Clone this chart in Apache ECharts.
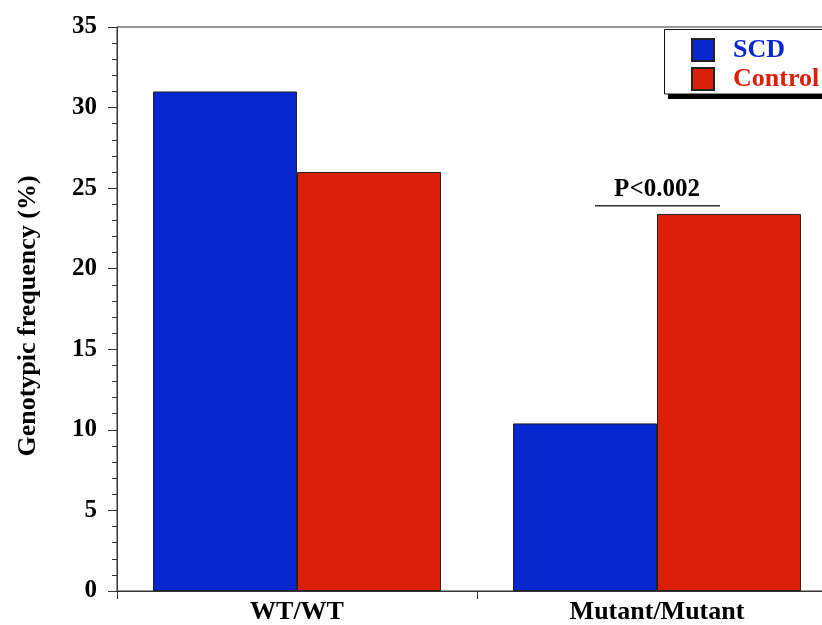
<!DOCTYPE html>
<html><head><meta charset="utf-8">
<script src="https://cdn.jsdelivr.net/npm/echarts@6/dist/echarts.min.js"></script>
<style>html,body{margin:0;padding:0;background:#fff}#c{width:822px;height:625px}</style>
</head><body><div id="c"></div>
<script>
const categories = ['WT/WT', 'Mutant/Mutant'];
const scdValues = [31, 10.4];
const controlValues = [26, 23.4];
const yTicks = {min: 0, max: 35, interval: 5};
const annotation = {text: 'P<0.002', category: 'Mutant/Mutant', value: 23.9};

const FONT = '"Liberation Serif", "Times New Roman", serif';
const BLUE = '#0627cf', RED = '#dc1f08';
const chart = echarts.init(document.getElementById('c'), null, {renderer: 'canvas'});
chart.setOption({
  animation: false,
  backgroundColor: '#fff',
  grid: {left: 117, top: 27, width: 720, bottom: 34, outerBoundsMode: 'none', containLabel: false,
         show: true, borderColor: '#333', borderWidth: 1, backgroundColor: 'transparent'},
  legend: {
    orient: 'vertical', left: 691, top: 37,
    padding: 0, itemGap: 3, itemWidth: 22, itemHeight: 22, icon: 'rect',
    textStyle: {fontFamily: FONT, fontWeight: 'bold', fontSize: 26, padding: [0, 0, 0, 14]},
    data: [
      {name: 'SCD', textStyle: {color: BLUE, fontFamily: FONT, fontWeight: 'bold', fontSize: 26, padding: [0, 0, 0, 14]}},
      {name: 'Control', textStyle: {color: RED, fontFamily: FONT, fontWeight: 'bold', fontSize: 26, padding: [0, 0, 0, 14]}}
    ]
  },
  xAxis: {
    type: 'category', data: categories,
    axisLine: {lineStyle: {color: '#333', width: 1}},
    axisTick: {show: true, length: 8, lineStyle: {color: '#333'}},
    axisLabel: {fontFamily: FONT, fontWeight: 'bold', fontSize: 26, color: '#000', margin: 8}
  },
  yAxis: {
    type: 'value', min: yTicks.min, max: yTicks.max, interval: yTicks.interval,
    name: 'Genotypic frequency (%)', nameLocation: 'middle', nameGap: 76,
    nameTextStyle: {fontFamily: FONT, fontWeight: 'bold', fontSize: 26, color: '#000', padding: [0, 14, 0, 0]},
    axisLine: {show: true, lineStyle: {color: '#333', width: 1}},
    axisTick: {show: true, length: 9, lineStyle: {color: '#333'}},
    minorTick: {show: true, splitNumber: 5, length: 5, lineStyle: {color: '#333'}},
    splitLine: {show: false},
    axisLabel: {fontFamily: FONT, fontWeight: 'bold', fontSize: 25, color: '#000', margin: 20}
  },
  series: [
    {name: 'SCD', type: 'bar', data: scdValues, barGap: '0%', barCategoryGap: '20%',
     itemStyle: {color: BLUE, borderColor: '#222', borderWidth: 1}},
    {name: 'Control', type: 'bar', data: controlValues, barGap: '0%', barCategoryGap: '20%',
     itemStyle: {color: RED, borderColor: '#222', borderWidth: 1}}
  ]
});
const cx = chart.convertToPixel({xAxisIndex: 0}, annotation.category);
const cy = chart.convertToPixel({yAxisIndex: 0}, annotation.value);
chart.setOption({graphic: [
  {type: 'rect', z: 1, shape: {x: 668, y: 33, width: 200, height: 66}, style: {fill: '#000'}},
  {type: 'rect', z: 2, shape: {x: 664.5, y: 29.5, width: 200, height: 64.5}, style: {fill: '#fff', stroke: '#111', lineWidth: 1}},
  {type: 'line', shape: {x1: cx - 62, y1: cy, x2: cx + 63, y2: cy}, style: {stroke: '#333', lineWidth: 1.5}},
  {type: 'text', x: cx, y: cy - 4, style: {text: annotation.text, fontFamily: FONT, fontWeight: 'bold', fontSize: 25, fill: '#000', textAlign: 'center', textVerticalAlign: 'bottom'}}
]});
</script></body></html>
